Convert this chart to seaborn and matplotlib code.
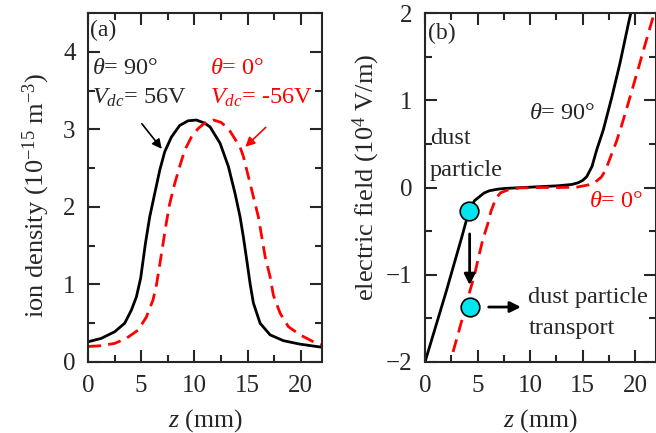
import numpy as np
import pandas as pd
import matplotlib
matplotlib.use("Agg")
import matplotlib.pyplot as plt
from matplotlib.ticker import MultipleLocator
import seaborn as sns

# ---- (a) ion density profiles, units of 10^-15 m^-3 ----
z_a90 = [0, 1.25, 2.51, 3.45, 4.08, 4.55, 4.95, 5.17, 5.39, 5.8, 6.27, 6.74, 7.21, 7.84, 8.62,
         9.41, 10.19, 10.97, 11.48, 12.42, 13.2, 13.83, 14.3, 14.61, 14.93, 15.24, 15.55, 16.18,
         17.12, 18.37, 19.94, 22]
n_90 = [0.26, 0.305, 0.39, 0.50, 0.67, 0.84, 1.08, 1.30, 1.52, 1.87, 2.17, 2.47, 2.71, 2.90, 3.05,
        3.11, 3.12, 3.08, 3.03, 2.82, 2.52, 2.17, 1.87, 1.61, 1.31, 1.01, 0.76, 0.50,
        0.35, 0.275, 0.23, 0.19]
z_a0 = [0, 1.25, 2.51, 3.6, 4.7, 5.49, 6.11, 6.43, 6.74, 7.06, 7.37, 7.68, 8.15, 8.62, 9.09,
        9.72, 10.35, 10.97, 11.8, 12.5, 13.2, 14.3, 14.61, 15.08, 15.55, 16.02, 16.34, 16.65,
        17.12, 17.43, 18.06, 18.84, 19.94, 21.2, 22]
n_0 = [0.20, 0.21, 0.24, 0.305, 0.41, 0.58, 0.80, 0.99, 1.25, 1.53, 1.80, 2.04, 2.30, 2.52, 2.73,
       2.90, 3.01, 3.08, 3.12, 3.09, 3.01, 2.77, 2.65, 2.39, 2.13, 1.87, 1.61, 1.36,
       1.10, 0.86, 0.63, 0.455, 0.35, 0.26, 0.22]

# ---- (b) electric field profiles, units of 10^4 V/m ----
z_b90 = [0, 1, 2, 3, 3.5, 4.0, 4.3, 4.72, 5.19, 5.6, 6.13, 7.0, 7.7, 9.4, 11, 12.7, 14.0, 14.6,
         15.0, 15.4, 15.9, 16.35, 16.98, 17.76, 18.56, 19.34, 19.6, 20]
e_90 = [-2.0, -1.6, -1.2, -0.78, -0.57, -0.35, -0.24, -0.15, -0.105, -0.065, -0.037, -0.018,
        -0.01, 0.0, 0.01, 0.02, 0.035, 0.055, 0.08, 0.124, 0.24, 0.43, 0.66, 1.02, 1.42, 1.86,
        2.0, 2.2]
z_b0 = [2.67, 3.1, 3.56, 4.1, 4.72, 5.1, 5.5, 5.97, 6.29, 6.76, 7.2, 7.86, 8.96, 11, 13, 14.5,
        15.57, 16.2, 16.8, 17.2, 17.45, 18.24, 18.7, 19.34, 19.8, 20.4, 20.75, 21.4, 22]
e_0 = [-1.885, -1.70, -1.50, -1.26, -1.0, -0.80, -0.60, -0.42, -0.27, -0.124, -0.06, -0.03,
       -0.005, 0.0, 0.0, 0.005, 0.03, 0.06, 0.12, 0.2, 0.28, 0.53, 0.70, 0.96, 1.15, 1.40,
       1.55, 1.82, 2.07]

# dust particle positions on the two field curves
dust_z = [4.18, 4.31]
dust_e = [-0.27, -1.37]

sns.set_style("ticks")
plt.rcParams["font.family"] = ["Liberation Serif", "DejaVu Serif"]
plt.rcParams["mathtext.fontset"] = "custom"
plt.rcParams["mathtext.rm"] = "Liberation Serif"
plt.rcParams["mathtext.it"] = "Liberation Serif:italic"
plt.rcParams["mathtext.bf"] = "Liberation Serif:bold"
plt.rcParams["font.size"] = 17
plt.rcParams["axes.linewidth"] = 1.5

RED = "#ff0000"
DASH = (4.7, 2.6)

fig = plt.figure(figsize=(6.56, 4.33), dpi=100)
ax1 = fig.add_axes([88 / 656, 71 / 433, 234 / 656, 349 / 433])
ax2 = fig.add_axes([425 / 656, 71 / 433, 231 / 656, 349 / 433])

df_a90 = pd.DataFrame({"z": z_a90, "n": n_90})
df_a0 = pd.DataFrame({"z": z_a0, "n": n_0})
sns.lineplot(data=df_a90, x="z", y="n", ax=ax1, color="black", lw=2.0)
sns.lineplot(data=df_a0, x="z", y="n", ax=ax1, color=RED, lw=2.0)
ax1.lines[-1].set_dashes(DASH)

df_b90 = pd.DataFrame({"z": z_b90, "E": e_90})
df_b0 = pd.DataFrame({"z": z_b0, "E": e_0})
sns.lineplot(data=df_b90, x="z", y="E", ax=ax2, color="black", lw=2.0)
sns.lineplot(data=df_b0, x="z", y="E", ax=ax2, color=RED, lw=2.0)
ax2.lines[-1].set_dashes(DASH)
ax2.scatter(dust_z, dust_e, s=180, color="#00e5ee", edgecolor="black", linewidth=1.2, zorder=5)

for ax in (ax1, ax2):
    ax.set_xlim(0, 22)
    ax.xaxis.set_major_locator(MultipleLocator(5))
    ax.xaxis.set_minor_locator(MultipleLocator(2.5))
    ax.yaxis.set_major_locator(MultipleLocator(1))
    ax.yaxis.set_minor_locator(MultipleLocator(0.5))
    ax.tick_params(which="both", direction="in", top=True, right=True, width=1.5,
                   labelsize=18)
    ax.tick_params(axis="x", which="major", pad=9)
    ax.tick_params(axis="y", which="major", pad=9)
    ax.tick_params(which="major", length=8.5)
    ax.tick_params(which="minor", length=5)
    ax.set_xlabel("$z$ (mm)", fontsize=18.5, labelpad=8)
    for s in ax.spines.values():
        s.set_linewidth(1.5)

ax1.set_ylim(0, 4.5)
ax1.set_ylabel("ion density (10$^{-15}$ m$^{-3}$)", fontsize=19)
ax1.yaxis.set_label_coords(-0.154, 0.476)

ax2.set_ylim(-2, 2)
ax2.set_ylabel("electric field (10$^4$ V/m)", fontsize=19)
ax2.yaxis.set_label_coords(-0.186, 0.53)

# panel (a) annotations
ax1.text(0.2, 4.27, "(a)", fontsize=17, va="center")
ax1.text(0.4, 3.79, r"$\theta$= 90°", fontsize=17.5, va="center")
ax1.text(0.4, 3.41, r"$V_{dc}$= 56V", fontsize=17.5, va="center")
ax1.text(11.5, 3.79, r"$\theta$= 0°", fontsize=17.5, va="center", color=RED)
ax1.text(11.5, 3.41, r"$V_{dc}$= -56V", fontsize=17.5, va="center", color=RED)
ax1.annotate("", xy=(7.1, 2.72), xytext=(4.9, 3.10),
             arrowprops=dict(arrowstyle="-|>", color="black", lw=1.2, mutation_scale=14))
ax1.annotate("", xy=(14.6, 2.75), xytext=(16.9, 3.05),
             arrowprops=dict(arrowstyle="-|>", color=RED, lw=1.2, mutation_scale=14))

# panel (b) annotations
ax2.text(0.3, 1.77, "(b)", fontsize=17, va="center")
ax2.text(0.45, 0.56, "dust", fontsize=17.5, va="center")
ax2.text(0.45, 0.2, "particle", fontsize=17.5, va="center")
ax2.text(9.9, 0.85, r"$\theta$= 90°", fontsize=17.5, va="center")
ax2.text(15.6, -0.16, r"$\theta$= 0°", fontsize=17.5, va="center", color=RED)
ax2.text(9.85, -1.26, "dust particle", fontsize=17.5, va="center")
ax2.text(9.85, -1.62, "transport", fontsize=17.5, va="center")
ax2.annotate("", xy=(4.25, -1.15), xytext=(4.25, -0.5),
             arrowprops=dict(arrowstyle="-|>", color="black", lw=2.0, mutation_scale=16))
ax2.annotate("", xy=(9.4, -1.37), xytext=(5.8, -1.37),
             arrowprops=dict(arrowstyle="-|>", color="black", lw=2.0, mutation_scale=16))

fig.savefig("out.png", dpi=100)
